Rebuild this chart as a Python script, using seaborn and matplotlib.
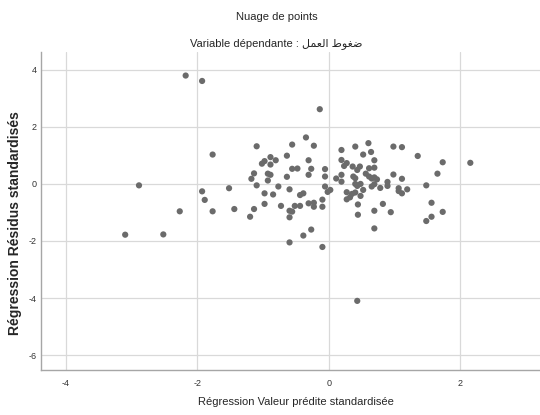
import matplotlib
matplotlib.use("Agg")
from matplotlib import pyplot as plt
import seaborn as sns
import pandas as pd

# valeurs (valeur predite std, residu std)
pred_x = [-2.18, -1.93, -1.77, -2.89, -1.93, -1.52, -1.89, -2.27, -1.77, -1.44,
          -3.10, -2.52,
          -0.14, -1.10, -0.56, -0.35, -0.23, -0.64, -1.02, -0.98, -0.89, -0.81,
          -0.89, -1.14, -1.18, -0.93, -0.89, -0.93, -0.64, -0.56, -0.48, -0.31,
          -0.27, -0.31, -0.06, -0.06, 0.11, 0.19, 0.40, 0.60, 0.64, 0.52,
          0.19, 0.27, 0.23, 0.36, 0.47, 0.43, 0.69, 0.61, 0.69, 0.19,
          0.19, 0.56, 0.61, 0.65, 0.69, 0.73, 0.37, 0.40, 0.43, 0.48,
          0.52, 0.65, 0.69, 0.78, 0.89, 0.89, 0.98, 1.11, 0.98, 1.11,
          1.06, 1.06, 1.11, 1.19, 1.35, 1.48, 1.65, 1.73, 1.56, 1.56,
          1.48, 1.73, 2.15, 0.69, 0.69, 0.82, 0.94, 0.44, 0.44, 0.27,
          0.32, 0.27, 0.35, 0.40, 0.48, 0.40, -1.14, -1.20, -1.10, -0.98,
          -0.85, -0.98, -0.77, -0.73, -0.60, -0.60, -0.56, -0.60, -0.52, -0.44,
          -0.44, -0.39, -0.31, -0.23, -0.23, -0.10, -0.10, -0.06, -0.02, 0.02,
          -0.60, -0.39, -0.27, -0.10, 0.43]
resid_y = [3.80, 3.61, 1.03, -0.05, -0.26, -0.15, -0.56, -0.96, -0.96, -0.88,
           -1.78, -1.77,
           2.62, 1.32, 1.38, 1.63, 1.34, 0.99, 0.71, 0.80, 0.94, 0.83,
           0.68, 0.37, 0.18, 0.36, 0.32, 0.12, 0.25, 0.53, 0.54, 0.83,
           0.53, 0.32, 0.52, 0.26, 0.19, 1.19, 1.31, 1.43, 1.12, 1.03,
           0.84, 0.73, 0.63, 0.61, 0.61, 0.49, 0.83, 0.55, 0.57, 0.32,
           0.08, 0.36, 0.26, 0.19, 0.23, 0.16, 0.26, 0.20, -0.07, 0.00,
           -0.21, -0.09, -0.01, -0.14, 0.07, -0.07, 1.31, 1.29, 0.33, 0.18,
           -0.15, -0.25, -0.33, -0.19, 0.98, -0.05, 0.36, 0.76, -0.66, -1.15,
           -1.30, -0.98, 0.74, -1.56, -0.94, -0.70, -0.99, -0.72, -1.08, -0.29,
           -0.47, -0.54, -0.35, -0.30, -0.42, 0.00, -0.88, -1.15, -0.05, -0.33,
           -0.37, -0.70, -0.09, -0.77, -0.19, -0.94, -0.97, -1.17, -0.77, -0.77,
           -0.39, -0.33, -0.68, -0.66, -0.80, -0.55, -0.80, -0.09, -0.28, -0.21,
           -2.05, -1.81, -1.60, -2.21, -4.10]

x_ticks = [-4, -2, 0, 2]
y_ticks = [-6, -4, -2, 0, 2, 4]

df = pd.DataFrame({"pred": pred_x, "resid": resid_y})

sns.set_style("white")
plt.rcParams["font.family"] = ["Liberation Sans", "DejaVu Sans"]
plt.rcParams["axes.unicode_minus"] = False

fig = plt.figure(figsize=(5.4, 4.15), dpi=100)
ax = fig.add_axes([0.076, 0.108, 0.924, 0.767])

ax.grid(True, color="#d9d9d9", linewidth=0.9)
ax.set_axisbelow(True)
sns.scatterplot(data=df, x="pred", y="resid", color="#6b6b6b", s=20,
                edgecolor="none", ax=ax)

ax.set_xlim(-4.38, 3.21)
ax.set_ylim(-6.53, 4.63)
ax.set_xticks(x_ticks)
ax.set_yticks(y_ticks)
ax.tick_params(length=0, labelsize=6.5, labelcolor="#333333")
ax.tick_params(axis="x", pad=6)
ax.tick_params(axis="y", pad=3)

for s in ["top", "right"]:
    ax.spines[s].set_visible(False)
for s in ["left", "bottom"]:
    ax.spines[s].set_color("#a6a6a6")
    ax.spines[s].set_linewidth(1.0)

ax.set_xlabel("Régression Valeur prédite standardisée", fontsize=8)
ax.xaxis.set_label_coords(0.511, -0.085)
ax.set_ylabel("Régression Résidus standardisés", fontsize=10,
              fontweight="bold")
ax.yaxis.set_label_coords(-0.038, 0.462)

# titres ; l'arabe est donne en formes de presentation, ordre visuel
arabe = "\ufede\ufee4\ufecc\ufedf\ufe8d \ufec1\ufeee\ufed0\ufebf"
fig.text(0.513, 0.959, "Nuage de points", ha="center", va="center", fontsize=8)
fig.text(0.511, 0.894, "Variable dépendante : " + arabe, ha="center",
         va="center", fontsize=8)

fig.savefig("out.png", dpi=100)
